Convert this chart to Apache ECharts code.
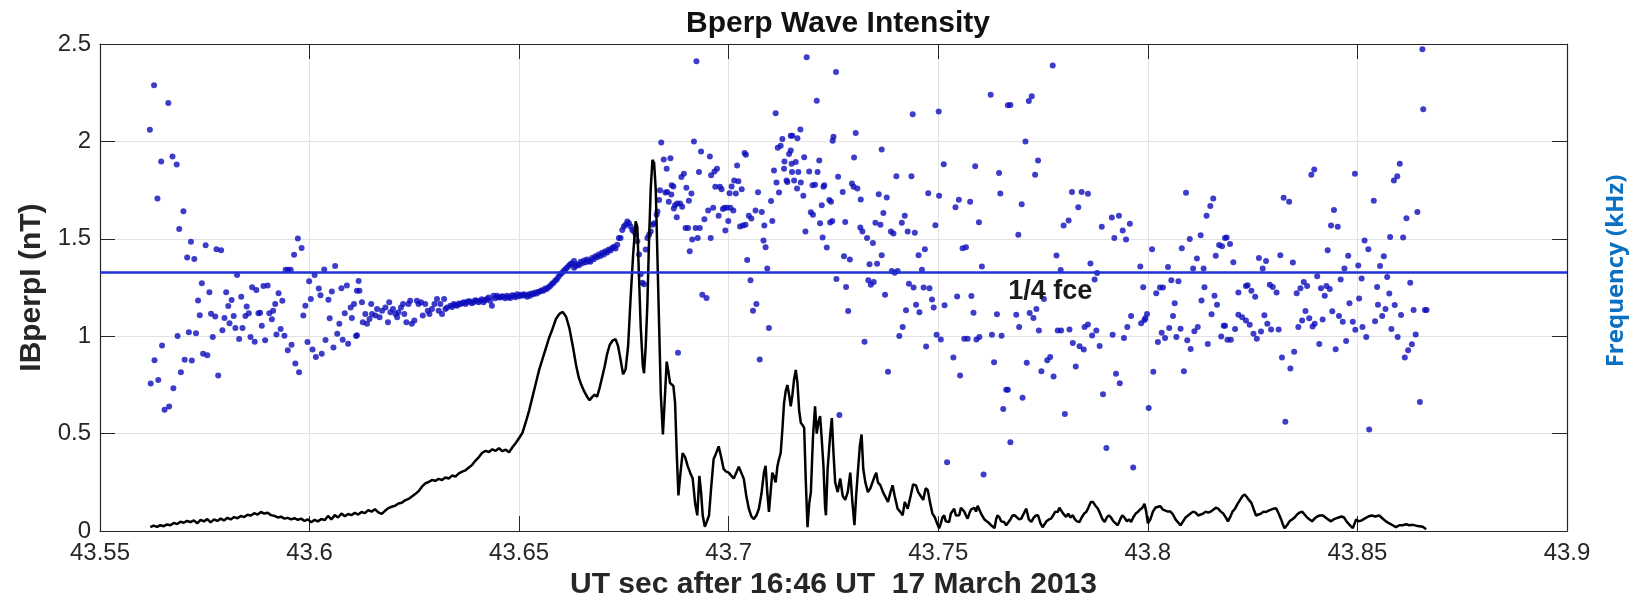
<!DOCTYPE html>
<html>
<head>
<meta charset="utf-8">
<script src="https://cdn.jsdelivr.net/npm/echarts@6/dist/echarts.min.js"></script>
<style>
html,body{margin:0;padding:0;background:#fff;}
#chart{width:1634px;height:605px;}
</style>
</head>
<body>
<div id="chart"></div>
<script>
// ---------- data ----------
const xTickLabels = ['43.55','43.6','43.65','43.7','43.75','43.8','43.85','43.9'];
const yTickLabels = ['0','0.5','1','1.5','2','2.5'];
const fceQuarter = 1.33;
const fceLabelAt = [43.7767, 1.23];

// |Bperp| (nT) vs time
const bperpLine = [
[43.5620,0.020],[43.5628,0.028],[43.5636,0.022],[43.5644,0.030],[43.5652,0.025],[43.5660,0.034],[43.5668,0.030],[43.5676,0.042],[43.5684,0.036],[43.5692,0.048],
[43.5700,0.043],[43.5708,0.052],[43.5716,0.046],[43.5724,0.055],[43.5732,0.040],[43.5740,0.058],[43.5748,0.050],[43.5756,0.062],[43.5764,0.045],[43.5772,0.060],
[43.5780,0.052],[43.5788,0.064],[43.5796,0.055],[43.5804,0.068],[43.5812,0.060],[43.5820,0.072],[43.5828,0.066],[43.5836,0.078],[43.5844,0.072],[43.5852,0.084],
[43.5860,0.080],[43.5868,0.092],[43.5876,0.085],[43.5884,0.098],[43.5892,0.090],[43.5900,0.094],[43.5908,0.082],[43.5916,0.078],[43.5924,0.070],[43.5932,0.074],
[43.5940,0.064],[43.5948,0.068],[43.5956,0.060],[43.5964,0.066],[43.5972,0.058],[43.5980,0.064],[43.5988,0.052],[43.5996,0.060],[43.6004,0.045],[43.6012,0.058],
[43.6020,0.050],[43.6028,0.062],[43.6036,0.056],[43.6044,0.078],[43.6052,0.060],[43.6060,0.082],[43.6068,0.070],[43.6076,0.090],[43.6084,0.076],[43.6092,0.088],
[43.6100,0.082],[43.6108,0.094],[43.6116,0.085],[43.6124,0.098],[43.6132,0.092],[43.6140,0.108],[43.6148,0.100],[43.6156,0.112],[43.6164,0.096],[43.6172,0.088],
[43.6180,0.104],[43.6188,0.118],[43.6196,0.125],[43.6204,0.130],[43.6212,0.142],[43.6220,0.145],[43.6228,0.158],[43.6236,0.165],[43.6244,0.178],[43.6252,0.190],
[43.6260,0.205],[43.6268,0.228],[43.6276,0.245],[43.6284,0.252],[43.6292,0.262],[43.6300,0.258],[43.6308,0.268],[43.6316,0.262],[43.6324,0.275],[43.6332,0.270],
[43.6340,0.285],[43.6348,0.280],[43.6356,0.296],[43.6364,0.305],[43.6372,0.312],[43.6380,0.326],[43.6388,0.340],[43.6396,0.362],[43.6404,0.380],[43.6412,0.402],
[43.6420,0.412],[43.6428,0.406],[43.6436,0.420],[43.6444,0.412],[43.6452,0.425],[43.6460,0.410],[43.6468,0.418],[43.6476,0.405],[43.6484,0.430],[43.6492,0.452],
[43.6500,0.478],[43.6508,0.505],[43.6516,0.560],[43.6524,0.620],[43.6532,0.690],[43.6540,0.760],[43.6548,0.830],[43.6556,0.885],[43.6564,0.940],[43.6572,0.995],
[43.6580,1.040],[43.6588,1.090],[43.6596,1.115],[43.6604,1.125],[43.6612,1.100],[43.6620,1.040],[43.6628,0.950],[43.6636,0.850],[43.6642,0.790],[43.6648,0.752],
[43.6655,0.718],[43.6662,0.690],[43.6668,0.672],[43.6675,0.690],[43.6680,0.700],[43.6686,0.690],[43.6692,0.735],[43.6698,0.790],[43.6704,0.845],[43.6710,0.910],
[43.6716,0.955],[43.6723,0.978],[43.6730,0.985],[43.6736,0.950],[43.6742,0.880],[43.6748,0.805],[43.6754,0.830],[43.6760,0.950],[43.6766,1.200],[43.6772,1.420],
[43.6778,1.590],[43.6782,1.560],[43.6786,1.300],[43.6790,1.050],[43.6795,0.850],[43.6798,0.810],[43.6802,0.950],[43.6806,1.170],[43.6810,1.500],[43.6814,1.760],
[43.6818,1.905],[43.6822,1.890],[43.6826,1.750],[43.6830,1.400],[43.6834,1.050],[43.6838,0.700],[43.6843,0.496],[43.6848,0.700],[43.6852,0.870],[43.6856,0.820],
[43.6860,0.760],[43.6864,0.770],[43.6868,0.745],[43.6872,0.660],[43.6876,0.400],[43.6880,0.183],[43.6884,0.280],[43.6890,0.400],[43.6896,0.380],[43.6902,0.335],
[43.6908,0.300],[43.6914,0.270],[43.6920,0.140],[43.6925,0.081],[43.6930,0.284],[43.6934,0.200],[43.6938,0.080],[43.6943,0.022],[43.6948,0.050],[43.6953,0.080],
[43.6958,0.220],[43.6964,0.370],[43.6970,0.400],[43.6976,0.435],[43.6982,0.380],[43.6988,0.318],[43.6994,0.305],[43.7000,0.300],[43.7006,0.285],[43.7012,0.270],
[43.7018,0.300],[43.7024,0.330],[43.7030,0.300],[43.7036,0.268],[43.7042,0.180],[43.7048,0.115],[43.7054,0.075],[43.7060,0.062],[43.7066,0.080],[43.7072,0.115],
[43.7078,0.190],[43.7084,0.300],[43.7088,0.335],[43.7092,0.200],[43.7096,0.098],[43.7100,0.200],[43.7104,0.300],[43.7108,0.280],[43.7112,0.250],[43.7116,0.330],
[43.7120,0.370],[43.7124,0.400],[43.7128,0.520],[43.7132,0.657],[43.7136,0.720],[43.7140,0.750],[43.7144,0.700],[43.7148,0.640],[43.7152,0.700],[43.7156,0.780],
[43.7160,0.827],[43.7164,0.760],[43.7168,0.620],[43.7172,0.556],[43.7176,0.545],[43.7180,0.530],[43.7184,0.250],[43.7188,0.020],[43.7192,0.140],[43.7196,0.200],
[43.7201,0.480],[43.7206,0.640],[43.7210,0.500],[43.7214,0.560],[43.7218,0.590],[43.7222,0.470],[43.7226,0.335],[43.7230,0.120],[43.7232,0.081],[43.7236,0.320],
[43.7242,0.490],[43.7246,0.580],[43.7250,0.400],[43.7254,0.250],[43.7260,0.200],[43.7266,0.270],[43.7272,0.180],[43.7278,0.160],[43.7284,0.200],[43.7290,0.300],
[43.7295,0.150],[43.7300,0.030],[43.7304,0.180],[43.7308,0.300],[43.7313,0.440],[43.7317,0.496],[43.7321,0.320],[43.7326,0.250],[43.7332,0.200],[43.7338,0.220],
[43.7343,0.250],[43.7348,0.280],[43.7352,0.300],[43.7356,0.250],[43.7362,0.235],[43.7368,0.200],[43.7374,0.175],[43.7380,0.150],[43.7386,0.200],[43.7391,0.235],
[43.7396,0.180],[43.7403,0.115],[43.7409,0.100],[43.7415,0.081],[43.7420,0.150],[43.7427,0.115],[43.7434,0.180],[43.7440,0.240],[43.7447,0.234],[43.7452,0.200],
[43.7458,0.180],[43.7464,0.160],[43.7470,0.220],[43.7475,0.210],[43.7480,0.150],[43.7486,0.090],[43.7492,0.070],[43.7497,0.040],[43.7502,0.014],[43.7506,0.040],
[43.7510,0.070],[43.7514,0.081],[43.7518,0.050],[43.7522,0.060],[43.7526,0.047],[43.7530,0.090],[43.7534,0.100],[43.7538,0.115],[43.7542,0.080],[43.7546,0.070],
[43.7550,0.081],[43.7554,0.120],[43.7558,0.130],[43.7562,0.100],[43.7566,0.080],[43.7570,0.064],[43.7574,0.090],[43.7578,0.110],[43.7582,0.115],[43.7586,0.120],
[43.7590,0.100],[43.7594,0.130],[43.7598,0.110],[43.7602,0.090],[43.7606,0.081],[43.7610,0.060],[43.7614,0.050],[43.7618,0.047],[43.7622,0.040],[43.7626,0.030],
[43.7630,0.030],[43.7634,0.015],[43.7638,0.060],[43.7641,0.081],[43.7646,0.070],[43.7650,0.050],[43.7654,0.060],[43.7657,0.047],[43.7662,0.030],[43.7666,0.030],
[43.7672,0.060],[43.7677,0.080],[43.7682,0.081],[43.7688,0.070],[43.7693,0.060],[43.7698,0.064],[43.7704,0.090],[43.7710,0.115],[43.7716,0.060],[43.7722,0.047],
[43.7728,0.070],[43.7733,0.080],[43.7738,0.081],[43.7744,0.040],[43.7749,0.020],[43.7753,0.030],[43.7758,0.050],[43.7764,0.060],[43.7769,0.064],[43.7774,0.080],
[43.7779,0.100],[43.7785,0.098],[43.7789,0.120],[43.7793,0.130],[43.7798,0.090],[43.7805,0.073],[43.7810,0.090],[43.7815,0.070],[43.7821,0.081],[43.7826,0.060],
[43.7831,0.050],[43.7837,0.047],[43.7842,0.070],[43.7848,0.090],[43.7853,0.098],[43.7858,0.120],[43.7864,0.150],[43.7869,0.149],[43.7875,0.130],[43.7881,0.115],
[43.7886,0.090],[43.7892,0.060],[43.7897,0.047],[43.7902,0.070],[43.7907,0.081],[43.7912,0.070],[43.7918,0.050],[43.7923,0.040],[43.7928,0.030],[43.7934,0.060],
[43.7939,0.081],[43.7944,0.070],[43.7950,0.050],[43.7955,0.060],[43.7960,0.047],[43.7965,0.070],[43.7971,0.090],[43.7976,0.098],[43.7981,0.110],[43.7987,0.120],
[43.7992,0.140],[43.7996,0.100],[43.8000,0.040],[43.8006,0.060],[43.8012,0.100],[43.8018,0.120],[43.8024,0.125],[43.8030,0.128],[43.8036,0.110],[43.8042,0.105],
[43.8048,0.100],[43.8054,0.100],[43.8060,0.085],[43.8066,0.060],[43.8072,0.045],[43.8078,0.030],[43.8084,0.050],[43.8090,0.070],[43.8096,0.080],[43.8102,0.090],
[43.8108,0.100],[43.8114,0.095],[43.8120,0.080],[43.8126,0.085],[43.8132,0.090],[43.8138,0.100],[43.8144,0.095],[43.8150,0.100],[43.8156,0.110],[43.8162,0.120],
[43.8168,0.115],[43.8174,0.100],[43.8180,0.090],[43.8186,0.070],[43.8191,0.050],[43.8196,0.070],[43.8202,0.100],[43.8208,0.115],[43.8214,0.140],[43.8220,0.160],
[43.8226,0.180],[43.8231,0.188],[43.8236,0.175],[43.8241,0.160],[43.8247,0.145],[43.8252,0.115],[43.8258,0.080],[43.8264,0.085],[43.8270,0.090],[43.8276,0.100],
[43.8282,0.098],[43.8288,0.105],[43.8294,0.110],[43.8300,0.115],[43.8306,0.117],[43.8312,0.090],[43.8318,0.060],[43.8322,0.035],[43.8326,0.015],[43.8332,0.030],
[43.8338,0.050],[43.8344,0.060],[43.8350,0.070],[43.8356,0.085],[43.8362,0.095],[43.8368,0.100],[43.8374,0.085],[43.8380,0.070],[43.8386,0.060],[43.8392,0.050],
[43.8398,0.065],[43.8404,0.075],[43.8410,0.080],[43.8418,0.080],[43.8424,0.070],[43.8430,0.060],[43.8437,0.050],[43.8443,0.060],[43.8449,0.065],[43.8455,0.070],
[43.8462,0.075],[43.8468,0.070],[43.8474,0.050],[43.8480,0.035],[43.8489,0.015],[43.8497,0.060],[43.8503,0.050],[43.8510,0.055],[43.8518,0.065],[43.8526,0.075],
[43.8534,0.080],[43.8542,0.075],[43.8552,0.080],[43.8560,0.065],[43.8568,0.050],[43.8576,0.040],[43.8584,0.030],[43.8592,0.020],[43.8600,0.030],[43.8608,0.030],
[43.8616,0.035],[43.8624,0.030],[43.8632,0.032],[43.8640,0.028],[43.8648,0.025],[43.8656,0.022],[43.8664,0.010]
];

// wave frequency points (plotted on the same vertical scale)
const freqPoints = [
[43.5629,2.288],[43.5663,2.197],[43.5619,2.060],[43.5646,1.897],[43.5673,1.922],[43.5683,1.882],[43.5637,1.707],[43.5699,1.641],[43.5689,1.551],[43.5717,1.485],
[43.5708,1.404],[43.5725,1.396],[43.5752,1.467],[43.5778,1.446],[43.5789,1.441],[43.5743,1.272],[43.5761,1.226],[43.5734,1.184],[43.5738,1.108],[43.5765,1.116],
[43.5775,1.101],[43.5827,1.314],[43.5801,1.226],[43.5814,1.186],[43.5806,1.155],[43.5837,1.203],[43.5797,1.094],[43.5819,1.104],[43.5809,1.067],[43.5823,1.043],
[43.5840,1.042],[43.5832,0.986],[43.5792,1.031],[43.5850,1.153],[43.5847,1.104],[43.5855,1.118],[43.5863,1.252],[43.5873,1.238],[43.5890,1.258],[43.5900,1.260],
[43.5878,1.118],[43.5882,1.121],[43.5886,1.054],[43.5904,1.118],[43.5910,1.087],[43.5913,1.131],[43.5918,1.165],[43.5926,1.221],[43.5935,1.182],[43.5859,0.996],
[43.5869,0.972],[43.5894,0.979],[43.5921,1.009],[43.5931,1.037],[43.5940,1.003],[43.5948,0.928],[43.5957,0.957],[43.5966,0.860],[43.5975,0.815],[43.5769,0.996],
[43.5729,1.015],[43.5712,1.021],[43.5685,1.001],[43.5648,0.952],[43.5630,0.877],[43.5702,0.879],[43.5719,0.876],[43.5746,0.910],[43.5756,0.903],[43.5693,0.815],
[43.5782,0.799],[43.5621,0.757],[43.5639,0.776],[43.5675,0.733],[43.5654,0.623],[43.5665,0.640],[43.5943,1.341],[43.5949,1.341],[43.5955,1.341],[43.5963,1.418],
[43.5972,1.502],[43.5981,1.453],[43.5985,1.106],[43.5990,1.157],[43.5999,1.282],[43.6003,1.191],[43.5995,0.971],[43.6007,0.932],[43.6015,0.894],[43.6029,0.910],
[43.6012,1.314],[43.6022,1.245],[43.6026,1.211],[43.6035,1.343],[43.6045,1.187],[43.6038,0.981],[43.6053,1.230],[43.6061,1.360],[43.6048,1.092],[43.6057,0.942],
[43.6066,1.013],[43.6071,1.064],[43.6076,1.247],[43.6084,1.118],[43.6079,0.982],[43.6089,1.260],[43.6092,0.962],[43.6098,1.148],[43.6101,1.094],[43.6106,1.165],
[43.6111,1.001],[43.6113,1.233],
[43.6117,1.284],[43.6119,1.233],[43.6113,1.005],[43.6125,1.174],[43.6127,1.072],[43.6133,1.114],[43.6137,1.064],[43.6143,1.089],[43.6147,1.165],[43.6149,1.114],
[43.6157,1.106],[43.6161,1.140],[43.6167,1.098],[43.6173,1.131],[43.6181,1.148],[43.6187,1.072],[43.6190,1.174],[43.6193,1.123],[43.6199,1.140],[43.6205,1.114],
[43.6209,1.098],[43.6212,1.123],[43.6218,1.148],[43.6223,1.165],[43.6226,1.114],[43.6231,1.072],[43.6236,1.165],[43.6240,1.182],[43.6244,1.064],[43.6250,1.081],
[43.6256,1.182],[43.6260,1.165],[43.6266,1.174],[43.6270,1.106],[43.6276,1.165],[43.6282,1.131],[43.6286,1.114],[43.6292,1.140],[43.6298,1.165],[43.6304,1.191],
[43.6308,1.131],[43.6312,1.165],[43.6316,1.114],[43.6321,1.191],[43.6324,1.140],[43.6328,1.148],[43.6336,1.157],[43.6340,1.150],[43.6344,1.165],[43.6348,1.160],
[43.6352,1.157],[43.6356,1.168],[43.6360,1.165],[43.6364,1.170],[43.6368,1.174],[43.6372,1.165],[43.6375,1.174],[43.6379,1.180],[43.6383,1.179],[43.6387,1.170],
[43.6391,1.174],[43.6395,1.185],[43.6399,1.182],[43.6403,1.175],[43.6407,1.182],[43.6411,1.190],[43.6415,1.174],[43.6419,1.185],[43.6423,1.191],[43.6427,1.199],
[43.6431,1.182],[43.6435,1.157],[43.6439,1.208],[43.6443,1.195],[43.6447,1.208],[43.6451,1.200],[43.6455,1.199],[43.6459,1.205],[43.6463,1.203],[43.6467,1.195],
[43.6471,1.208],[43.6475,1.200],[43.6479,1.196],[43.6483,1.210],[43.6487,1.208],[43.6491,1.200],[43.6495,1.216],[43.6499,1.205],[43.6503,1.213],[43.6507,1.208],
[43.6511,1.216],[43.6515,1.210],[43.6519,1.203],[43.6523,1.215],[43.6526,1.208],[43.6530,1.220],[43.6534,1.216],[43.6538,1.225],[43.6542,1.220],[43.6546,1.228],
[43.6550,1.230],[43.6554,1.236],[43.6558,1.233],[43.6562,1.245],[43.6566,1.242],[43.6570,1.252],[43.6574,1.258],[43.6578,1.268],[43.6582,1.275],[43.6586,1.285],
[43.6590,1.292],[43.6594,1.305],[43.6598,1.318],[43.6602,1.325],[43.6606,1.335],[43.6610,1.343],[43.6614,1.352],[43.6618,1.360],[43.6622,1.369],[43.6626,1.375],
[43.6631,1.386],
[43.6631,1.352],[43.6635,1.360],[43.6639,1.369],[43.6643,1.365],[43.6647,1.382],[43.6651,1.375],[43.6655,1.389],[43.6659,1.380],[43.6662,1.394],[43.6666,1.385],
[43.6670,1.382],[43.6674,1.402],[43.6678,1.395],[43.6682,1.411],[43.6686,1.405],[43.6690,1.419],[43.6694,1.412],[43.6698,1.428],[43.6702,1.420],[43.6706,1.436],
[43.6710,1.430],[43.6714,1.445],[43.6718,1.440],[43.6722,1.453],[43.6726,1.460],[43.6730,1.450],[43.6734,1.470],[43.6738,1.504],[43.6742,1.504],[43.6746,1.546],
[43.6750,1.563],[43.6754,1.572],[43.6758,1.589],[43.6762,1.580],[43.6766,1.563],[43.6770,1.546],[43.6774,1.538],[43.6778,1.521],[43.6782,1.487],[43.6786,1.419],
[43.6790,1.318],[43.6794,1.275],[43.6798,1.267],[43.6802,1.445],[43.6806,1.504],[43.6810,1.521],[43.6814,1.538],[43.6818,1.572],[43.6822,1.580],[43.6828,1.623],
[43.6830,1.640],[43.6834,1.699],[43.6836,1.750],[43.6839,1.995],[43.6845,1.907],[43.6852,1.860],[43.6861,1.914],[43.6853,1.741],[43.6857,1.690],[43.6849,1.738],
[43.6864,1.775],[43.6868,1.768],[43.6863,1.728],[43.6869,1.656],[43.6872,1.673],[43.6877,1.682],[43.6884,1.682],[43.6889,1.665],[43.6876,1.611],[43.6887,1.817],
[43.6893,1.834],[43.6899,1.762],[43.6905,1.695],[43.6911,1.733],[43.6897,1.555],[43.6903,1.555],[43.6907,1.436],[43.6913,1.496],[43.6917,1.999],[43.6921,1.555],
[43.6926,1.504],[43.6931,1.555],[43.6929,1.843],[43.6934,1.948],[43.6937,1.213],[43.6947,1.196],[43.6942,1.601],[43.6951,1.646],[43.6955,1.922],[43.6957,1.504],
[43.6958,1.826],[43.6963,1.660],[43.6966,1.846],[43.6968,1.767],[43.6972,1.860],[43.6976,1.619],[43.6979,1.767],[43.6983,1.755],[43.6986,1.653],[43.6990,1.660],
[43.6992,1.543],[43.6996,1.660],[43.6999,1.592],[43.7002,1.734],[43.7004,1.660],[43.7007,1.768],[43.7011,1.646],[43.7013,1.800],[43.7017,1.733],[43.7020,1.877],
[43.7023,1.795],[43.7027,1.563],[43.7031,1.755],[43.7034,1.568],[43.7038,1.941],[43.7041,1.931],[43.7040,1.572],[43.7044,1.392],[43.7048,1.619],[43.7052,1.287],
[43.7054,1.604],[43.7058,1.131],[43.7064,1.646],[43.7066,1.165],[43.7070,1.739],[43.7074,0.881],[43.7079,1.638],[43.7083,1.491],[43.7085,1.568],[43.7088,1.457],
[43.7092,1.348],[43.7096,1.043],[43.7101,1.694],[43.7104,1.592],[43.7108,1.851],[43.7112,2.144],[43.7114,1.789],[43.7117,1.968],[43.7120,1.738],[43.7124,1.978],
[43.7128,2.012],[43.7132,1.860],[43.7133,1.897],[43.7138,1.800],[43.7140,1.792],[43.7148,2.029],[43.7144,1.936],[43.7150,1.885],[43.6879,0.915],[43.6923,2.412],
[43.7186,2.432],[43.7256,2.356],[43.7210,2.209],[43.7439,2.139],[43.7501,2.154],[43.7625,2.239],[43.7666,2.185],[43.7171,2.061],[43.7164,2.016],[43.7152,2.029],
[43.7250,2.024],[43.7248,2.004],[43.7303,2.043],[43.7148,1.953],[43.7160,1.894],[43.7180,1.919],[43.7151,1.843],[43.7166,1.843],[43.7192,1.846],[43.7212,1.843],
[43.7216,1.902],[43.7156,1.800],[43.7172,1.789],[43.7163,1.758],[43.7200,1.775],[43.7206,1.778],[43.7228,1.775],[43.7226,1.767],[43.7261,1.819],[43.7299,1.917],
[43.7365,1.958],[43.7400,1.821],[43.7436,1.821],[43.7294,1.784],[43.7298,1.767],[43.7307,1.758],[43.7178,1.721],[43.7196,1.636],[43.7201,1.623],[43.7222,1.673],
[43.7240,1.699],[43.7244,1.690],[43.7272,1.741],[43.7315,1.702],[43.7358,1.729],[43.7377,1.712],[43.7476,1.734],[43.7502,1.721],[43.7513,1.883],[43.7588,1.872],
[43.7645,1.838],[43.7648,1.733],[43.7541,1.662],[43.7549,1.700],[43.7576,1.690],[43.7597,1.585],[43.7183,1.538],[43.7218,1.580],[43.7242,1.584],[43.7247,1.592],
[43.7278,1.587],[43.7314,1.558],[43.7319,1.538],[43.7350,1.582],[43.7362,1.572],[43.7369,1.633],[43.7387,1.538],[43.7393,1.528],[43.7413,1.582],[43.7420,1.618],
[43.7427,1.538],[43.7444,1.531],[43.7493,1.570],[43.7224,1.507],[43.7234,1.455],[43.7330,1.504],[43.7344,1.479],[43.7365,1.416],[43.7275,1.411],[43.7289,1.394],
[43.7336,1.369],[43.7354,1.372],[43.7453,1.416],[43.7468,1.446],[43.7558,1.452],[43.7566,1.457],[43.7604,1.358],[43.7257,1.294],[43.7280,1.253],[43.7333,1.287],
[43.7339,1.265],[43.7346,1.279],[43.7373,1.213],[43.7389,1.335],[43.7396,1.326],[43.7403,1.335],[43.7430,1.270],[43.7441,1.250],[43.7461,1.341],[43.7465,1.250],
[43.7479,1.247],[43.7285,1.130],[43.7423,1.133],[43.7447,1.162],[43.7455,1.123],[43.7485,1.189],[43.7489,1.148],[43.7515,1.159],[43.7545,1.204],[43.7579,1.206],
[43.7584,1.121],[43.7640,1.113],[43.7415,1.047],[43.7407,1.001],[43.7324,0.972],[43.7471,0.947],[43.7496,1.008],[43.7506,0.984],[43.7562,0.987],[43.7570,0.987],
[43.7591,0.984],[43.7598,0.996],[43.7628,1.008],[43.7651,1.003],[43.7536,0.891],[43.7552,0.799],[43.7633,0.867],[43.7380,0.818],[43.7264,0.596],[43.7521,0.354],
[43.7608,0.290],[43.7662,0.725],[43.7655,0.627],
[43.7773,2.390],[43.7672,2.187],[43.7716,2.207],[43.7723,2.232],[43.7708,1.999],[43.7738,1.902],[43.7731,1.829],[43.7819,1.740],[43.7842,1.740],[43.7857,1.731],
[43.7834,1.662],[43.7699,1.677],[43.8091,1.736],[43.8156,1.707],[43.8149,1.668],[43.8140,1.619],[43.7811,1.594],[43.7799,1.568],[43.7890,1.562],[43.7914,1.609],
[43.7931,1.618],[43.7940,1.543],[43.7957,1.577],[43.7920,1.504],[43.7948,1.497],[43.7691,1.521],[43.8126,1.519],[43.8100,1.499],[43.8184,1.504],[43.8081,1.452],
[43.8170,1.468],[43.8010,1.446],[43.7782,1.414],[43.7863,1.374],[43.7792,1.340],[43.7873,1.291],[43.7879,1.325],[43.7982,1.358],[43.8048,1.355],[43.8117,1.399],
[43.8108,1.348],[43.8133,1.348],[43.8162,1.413],[43.8177,1.462],[43.7989,1.252],[43.8029,1.250],[43.8036,1.250],[43.8056,1.287],[43.8073,1.282],[43.8020,1.221],
[43.8064,1.169],[43.7752,1.191],[43.8135,1.252],[43.8159,1.208],[43.8128,1.184],[43.8165,1.162],[43.7686,1.111],[43.7718,1.120],[43.7727,1.094],[43.7734,1.140],
[43.7693,1.047],[43.7740,1.030],[43.7785,1.030],[43.7793,1.030],[43.7813,1.035],[43.7849,1.047],[43.7857,1.060],[43.7867,1.004],[43.7877,1.030],[43.7916,1.008],
[43.7951,1.048],[43.7960,1.104],[43.7984,1.067],[43.7992,1.084],[43.7998,1.114],[43.7943,0.991],[43.7821,0.965],[43.7837,0.949],[43.7847,0.932],[43.7885,0.950],
[43.7994,1.092],[43.8033,1.018],[43.8024,0.971],[43.8041,0.991],[43.8051,1.043],[43.8060,1.104],[43.8068,0.996],[43.8078,1.038],[43.8094,0.979],[43.8102,0.935],
[43.8111,1.026],[43.8119,1.047],[43.8143,0.960],[43.8152,1.113],[43.8175,0.999],[43.8181,1.054],[43.7711,0.864],[43.7746,0.820],[43.7760,0.877],[43.7767,0.894],
[43.7775,0.794],[43.7828,0.845],[43.7924,0.808],[43.7933,0.759],[43.7666,0.725],[43.7701,0.684],[43.8013,0.818],[43.8086,0.821],[43.7893,0.703],[43.8002,0.632],
[43.7802,0.601],[43.7672,0.456],[43.7901,0.427],[43.7965,0.327],
[43.8655,2.473],[43.8657,2.165],[43.8601,1.885],[43.8595,1.821],[43.8587,1.800],[43.8397,1.856],[43.8390,1.829],[43.8494,1.834],[43.8324,1.711],[43.8337,1.690],
[43.8539,1.695],[43.8643,1.638],[43.8617,1.606],[43.8444,1.648],[43.8437,1.568],[43.8453,1.562],[43.8188,1.507],[43.8196,1.474],[43.8578,1.509],[43.8609,1.507],
[43.8517,1.492],[43.8526,1.446],[43.8429,1.441],[43.8563,1.411],[43.8478,1.413],[43.8204,1.380],[43.8265,1.402],[43.8282,1.386],[43.8274,1.348],[43.8316,1.416],
[43.8346,1.379],[43.8469,1.348],[43.8502,1.363],[43.8554,1.360],[43.8571,1.304],[43.8626,1.275],[43.8404,1.308],[43.8460,1.291],[43.8510,1.297],[43.8372,1.279],
[43.8380,1.258],[43.8364,1.247],[43.8355,1.221],[43.8216,1.225],[43.8234,1.258],[43.8238,1.262],[43.8247,1.233],[43.8256,1.203],[43.8291,1.264],[43.8298,1.253],
[43.8307,1.225],[43.8413,1.247],[43.8422,1.208],[43.8426,1.258],[43.8434,1.242],[43.8547,1.253],[43.8576,1.220],[43.8504,1.194],[43.8481,1.170],[43.8549,1.162],
[43.8567,1.140],[43.8589,1.160],[43.8634,1.135],[43.8661,1.135],[43.8665,1.135],[43.8604,1.109],[43.8376,1.130],[43.8368,1.081],[43.8385,1.092],[43.8393,1.050],
[43.8398,1.064],[43.8417,1.086],[43.8440,1.128],[43.8456,1.104],[43.8465,1.074],[43.8489,1.074],[43.8495,1.033],[43.8512,1.048],[43.8542,1.077],[43.8559,1.104],
[43.8581,1.037],[43.8596,0.996],[43.8639,1.009],[43.8630,0.959],[43.8621,0.928],[43.8613,0.891],[43.8521,0.996],[43.8473,0.976],[43.8448,0.933],[43.8409,0.960],
[43.8359,1.047],[43.8312,1.035],[43.8294,1.035],[43.8285,1.064],[43.8278,1.108],[43.8270,1.025],[43.8260,0.987],[43.8252,1.013],[43.8243,1.059],[43.8234,1.081],
[43.8225,1.098],[43.8216,1.111],[43.8208,1.037],[43.8198,0.982],[43.8190,0.982],[43.8184,1.054],[43.8349,0.921],[43.8320,0.891],[43.8340,0.835],[43.8649,0.662],
[43.8328,0.561],[43.8528,0.522]
];

// ---------- chart ----------
const FONT = "'Liberation Sans', Arial, Helvetica, sans-serif";
const AX = '#262626';
const chart = echarts.init(document.getElementById('chart'), null, {renderer: 'canvas'});

const tickCommon = { show: true, inside: true, length: 15, lineStyle: { color: AX, width: 1 } };
const lineCommon = { show: true, onZero: false, lineStyle: { color: AX, width: 1.2 } };

chart.setOption({
  animation: false,
  backgroundColor: '#ffffff',
  title: {
    text: 'Bperp Wave Intensity',
    left: 833, top: 4, textAlign: 'center',
    textStyle: { fontFamily: FONT, fontWeight: 'bold', fontSize: 30, color: '#111111' }
  },
  grid: { left: 100, right: 67, top: 44, bottom: 69, containLabel: false },
  xAxis: [
    {
      type: 'value', position: 'bottom', min: 43.55, max: 43.9, interval: 0.05,
      axisLine: lineCommon, axisTick: tickCommon,
      axisLabel: {
        margin: 10, fontSize: 24, color: AX, fontFamily: FONT,
        formatter: function (v) { return xTickLabels[Math.round((v - 43.55) / 0.05)] || ''; }
      },
      splitLine: { show: true, lineStyle: { color: '#e2e2e2', width: 1 } },
      name: 'UT sec after 16:46 UT  17 March 2013',
      nameLocation: 'middle', nameGap: 35,
      nameTextStyle: { fontFamily: FONT, fontWeight: 'bold', fontSize: 30, color: AX }
    },
    {
      type: 'value', position: 'top', min: 43.55, max: 43.9, interval: 0.05,
      axisLine: lineCommon, axisTick: tickCommon,
      axisLabel: { show: false }, splitLine: { show: false }
    }
  ],
  yAxis: [
    {
      type: 'value', position: 'left', min: 0, max: 2.5, interval: 0.5,
      axisLine: lineCommon, axisTick: tickCommon,
      axisLabel: {
        margin: 9, fontSize: 24, color: AX, fontFamily: FONT,
        formatter: function (v) { return yTickLabels[Math.round(v / 0.5)] || ''; }
      },
      splitLine: { show: true, lineStyle: { color: '#e2e2e2', width: 1 } },
      name: 'IBperpI (nT)', nameLocation: 'middle', nameRotate: 90, nameGap: 48,
      nameTextStyle: { fontFamily: FONT, fontWeight: 'bold', fontSize: 30, color: AX }
    },
    {
      type: 'value', position: 'right', min: 0, max: 2.5, interval: 0.5,
      axisLine: lineCommon, axisTick: tickCommon,
      axisLabel: { show: false }, splitLine: { show: false }
    }
  ],
  graphic: [
    {
      type: 'text', x: 1616, y: 271, rotation: Math.PI / 2, silent: true,
      style: {
        text: 'Frequency (kHz)', fill: '#0a70c2',
        font: "bold 24px 'Open Sans', 'Noto Sans', sans-serif",
        textAlign: 'center', textVerticalAlign: 'middle'
      }
    }
  ],
  series: [
    {
      name: 'frequency', type: 'scatter', xAxisIndex: 0, yAxisIndex: 0,
      data: freqPoints, symbol: 'circle', symbolSize: 6,
      itemStyle: { color: '#0c0cbc' }, z: 2,
      markLine: {
        silent: true, symbol: ['none', 'none'],
        lineStyle: { color: '#1f33d4', width: 2.5, type: 'solid' },
        label: { show: false },
        data: [{ yAxis: fceQuarter }]
      },
      markPoint: {
        silent: true, symbol: 'circle', symbolSize: 0,
        label: {
          show: true, position: 'inside', formatter: '1/4 fce',
          fontFamily: FONT, fontWeight: 'bold', fontSize: 27, color: '#1a1a1a'
        },
        data: [{ coord: fceLabelAt }]
      }
    },
    {
      name: 'Bperp', type: 'line', xAxisIndex: 0, yAxisIndex: 0,
      data: bperpLine, showSymbol: false, symbol: 'none',
      lineStyle: { color: '#000000', width: 2.5 }, z: 3
    }
  ]
});
</script>
</body>
</html>
